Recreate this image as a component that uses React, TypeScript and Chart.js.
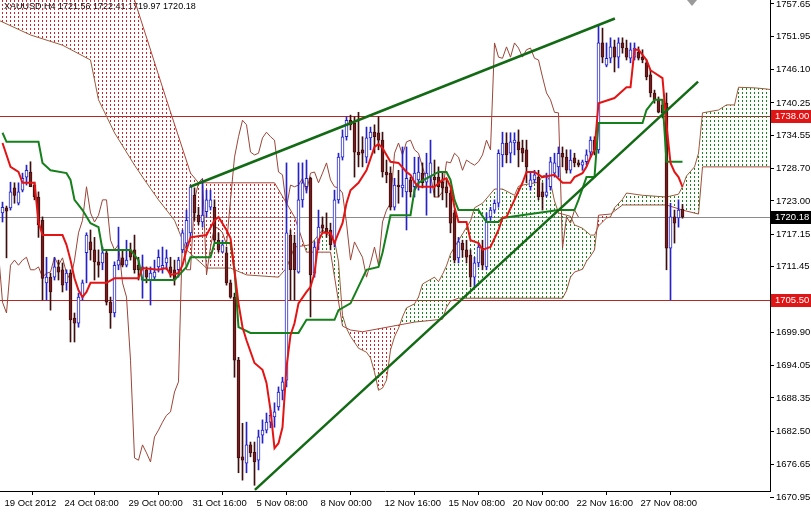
import React, { useEffect, useRef } from 'react';
import { Chart, registerables } from 'chart.js';

Chart.register(...registerables);

// ---------- DATA (XAUUSD, H4) ----------
const opens = [
  1720.9, 1721.8, 1721.8, 1725.3, 1722.6, 1724.9, 1727.2, 1728.1, 1725.8, 1723.7,
  1719.6, 1708.6, 1709.6, 1709.6, 1711.4, 1710.9, 1708.6, 1710.3, 1702.4, 1701.5,
  1706.1, 1713.9, 1715.8, 1714.4, 1712.3, 1712.1, 1713.9, 1705.2, 1703.3, 1711.7,
  1713.0, 1711.7, 1714.4, 1714.4, 1711.7, 1709.1, 1710.9, 1709.1, 1709.6, 1711.4,
  1711.2, 1712.1, 1711.4, 1710.9, 1710.9, 1714.4, 1715.6, 1717.4, 1724.0, 1720.5,
  1719.3, 1721.1, 1721.9, 1721.9, 1716.1, 1714.0, 1713.9, 1708.6, 1706.1, 1695.0,
  1678.0, 1676.9, 1680.1, 1678.8, 1677.4, 1681.8, 1682.7, 1684.1, 1685.0, 1686.8,
  1689.7, 1691.5, 1717.0, 1715.6, 1710.5, 1723.2, 1725.5, 1727.0, 1710.3, 1715.6,
  1718.8, 1718.2, 1717.9, 1715.6, 1723.2, 1730.7, 1734.3, 1737.2, 1736.7, 1731.6,
  1732.0, 1730.7, 1734.1, 1735.1, 1735.0, 1733.7, 1728.1, 1727.9, 1721.9, 1725.8,
  1725.3, 1724.6, 1726.7, 1725.5, 1726.7, 1727.9, 1726.3, 1727.2, 1727.2, 1727.2,
  1726.3, 1725.5, 1724.4, 1720.9, 1713.0, 1715.6, 1714.4, 1713.5, 1709.6, 1712.1,
  1714.7, 1711.4, 1720.2, 1721.4, 1722.6, 1731.1, 1733.2, 1731.4, 1733.2, 1733.4,
  1732.3, 1732.0, 1725.5, 1726.7, 1727.2, 1724.6, 1724.0, 1725.5, 1727.9, 1729.0,
  1731.4, 1730.7, 1728.4, 1730.6, 1729.7, 1729.3, 1729.9, 1731.6, 1733.7, 1732.0,
  1750.8, 1746.9, 1748.1, 1750.1, 1748.3, 1750.8, 1749.9, 1748.1, 1748.3, 1749.2,
  1748.3, 1747.3, 1745.2, 1742.0, 1740.8, 1739.9, 1740.2, 1714.7, 1720.2, 1720.0,
  1721.56,
];
const highs = [
  1722.8, 1722.1, 1726.3, 1726.2, 1726.2, 1727.9, 1729.3, 1729.9, 1726.3, 1724.6,
  1720.2, 1713.1, 1710.3, 1713.1, 1712.6, 1712.1, 1710.9, 1710.9, 1703.3, 1706.8,
  1709.1, 1717.4, 1717.9, 1716.6, 1714.4, 1714.9, 1714.4, 1706.1, 1712.3, 1718.4,
  1714.4, 1716.1, 1715.6, 1717.0, 1713.1, 1713.5, 1711.4, 1711.4, 1712.6, 1714.4,
  1714.9, 1714.4, 1713.1, 1712.6, 1713.1, 1717.9, 1721.4, 1725.8, 1725.3, 1721.9,
  1726.7, 1724.9, 1724.9, 1723.2, 1717.4, 1716.1, 1714.9, 1709.1, 1706.8, 1695.5,
  1683.9, 1684.1, 1680.6, 1680.6, 1682.7, 1684.5, 1685.7, 1686.2, 1687.5, 1690.3,
  1692.0, 1729.7, 1717.9, 1717.0, 1729.7, 1729.7, 1730.2, 1727.2, 1715.8, 1721.4,
  1720.2, 1720.9, 1719.1, 1724.9, 1731.4, 1735.5, 1737.8, 1738.1, 1737.8, 1738.6,
  1734.3, 1736.0, 1736.0, 1736.4, 1737.8, 1735.1, 1730.2, 1729.0, 1727.0, 1728.4,
  1732.5, 1732.5, 1727.2, 1730.7, 1730.7, 1729.7, 1731.4, 1733.7, 1730.2, 1729.0,
  1727.9, 1726.7, 1724.9, 1721.4, 1716.6, 1716.1, 1716.1, 1714.4, 1713.1, 1715.6,
  1716.1, 1720.9, 1721.9, 1723.2, 1732.0, 1735.1, 1735.0, 1735.0, 1735.0, 1735.5,
  1733.7, 1733.7, 1727.9, 1728.4, 1728.4, 1726.2, 1727.9, 1730.7, 1731.4, 1732.5,
  1732.5, 1732.0, 1732.0, 1731.4, 1730.2, 1730.2, 1732.0, 1734.3, 1734.3, 1754.0,
  1753.4, 1750.8, 1751.7, 1751.3, 1751.7, 1751.7, 1751.3, 1750.8, 1750.8, 1750.1,
  1749.6, 1747.8, 1746.0, 1742.5, 1741.3, 1740.8, 1742.0, 1722.6, 1721.4, 1723.2,
  1722.41,
];
const lows = [
  1719.3, 1713.0, 1721.4, 1722.6, 1722.3, 1724.6, 1725.8, 1725.5, 1723.2, 1716.6,
  1705.6, 1705.6, 1703.8, 1709.1, 1709.1, 1707.0, 1707.3, 1698.2, 1698.2, 1700.8,
  1705.6, 1708.6, 1712.6, 1709.1, 1709.6, 1710.9, 1704.7, 1700.6, 1702.6, 1710.9,
  1711.4, 1711.4, 1712.6, 1710.3, 1709.1, 1705.9, 1708.6, 1704.7, 1709.1, 1710.5,
  1710.3, 1710.9, 1709.6, 1708.2, 1709.6, 1713.9, 1714.9, 1716.6, 1719.6, 1718.8,
  1718.4, 1720.2, 1721.4, 1715.8, 1714.0, 1713.9, 1708.2, 1705.9, 1692.0, 1675.2,
  1673.9, 1675.2, 1678.0, 1673.0, 1675.7, 1680.4, 1682.2, 1683.1, 1683.2, 1686.2,
  1688.0, 1690.3, 1705.6, 1705.6, 1710.3, 1721.9, 1724.4, 1702.6, 1709.6, 1714.4,
  1717.4, 1716.6, 1714.4, 1714.9, 1722.6, 1730.2, 1733.7, 1735.5, 1727.2, 1729.0,
  1729.0, 1729.7, 1732.0, 1731.4, 1732.0, 1727.2, 1726.2, 1721.4, 1721.4, 1722.6,
  1723.7, 1717.9, 1723.7, 1723.7, 1724.9, 1725.3, 1720.5, 1724.4, 1723.7, 1723.7,
  1723.2, 1721.9, 1717.4, 1712.1, 1712.1, 1713.1, 1712.1, 1707.9, 1707.9, 1711.4,
  1710.9, 1710.9, 1719.6, 1720.9, 1721.9, 1729.0, 1729.7, 1729.7, 1731.1, 1729.0,
  1729.9, 1726.2, 1724.9, 1726.2, 1723.2, 1721.4, 1723.7, 1724.9, 1727.2, 1727.2,
  1729.0, 1727.9, 1727.9, 1729.0, 1729.0, 1728.4, 1729.3, 1730.7, 1731.1, 1731.4,
  1747.3, 1746.6, 1747.3, 1745.7, 1746.4, 1749.0, 1747.8, 1747.3, 1747.8, 1747.8,
  1747.3, 1744.3, 1741.3, 1740.2, 1738.5, 1737.6, 1710.9, 1705.6, 1715.6, 1718.4,
  1719.97,
];
const closes = [
  1721.9, 1721.2, 1724.6, 1724.0, 1724.6, 1727.0, 1728.4, 1725.5, 1723.7, 1718.8,
  1709.4, 1709.6, 1707.0, 1711.4, 1710.5, 1708.2, 1710.3, 1702.1, 1701.5, 1706.1,
  1708.6, 1717.0, 1714.4, 1712.3, 1711.7, 1713.9, 1705.2, 1703.3, 1711.7, 1712.6,
  1711.7, 1712.6, 1713.1, 1710.9, 1710.9, 1711.4, 1709.6, 1710.3, 1710.5, 1713.1,
  1711.7, 1713.0, 1710.3, 1709.1, 1712.6, 1717.4, 1719.6, 1725.5, 1720.9, 1719.3,
  1720.5, 1723.2, 1723.2, 1716.1, 1714.4, 1715.3, 1708.6, 1706.1, 1695.0, 1677.8,
  1677.4, 1680.1, 1678.7, 1677.1, 1681.5, 1682.7, 1684.1, 1685.3, 1685.9, 1689.4,
  1691.2, 1717.4, 1710.9, 1710.9, 1723.2, 1726.2, 1727.0, 1710.0, 1714.9, 1718.4,
  1718.2, 1717.4, 1715.3, 1723.2, 1730.7, 1734.3, 1737.2, 1736.4, 1731.6, 1731.1,
  1731.4, 1734.1, 1735.1, 1734.3, 1733.7, 1728.1, 1727.6, 1721.9, 1725.8, 1725.5,
  1725.8, 1727.0, 1724.6, 1727.9, 1728.1, 1726.2, 1727.9, 1729.7, 1726.7, 1725.5,
  1725.3, 1724.4, 1719.1, 1712.6, 1715.8, 1714.4, 1713.1, 1709.6, 1712.1, 1714.9,
  1711.7, 1719.3, 1721.4, 1722.6, 1731.4, 1733.2, 1731.1, 1733.4, 1733.7, 1732.0,
  1731.4, 1729.0, 1726.7, 1727.6, 1723.7, 1723.7, 1724.6, 1729.9, 1729.7, 1731.4,
  1730.7, 1728.4, 1730.2, 1729.7, 1729.3, 1729.9, 1731.1, 1733.7, 1732.0, 1750.8,
  1748.3, 1748.1, 1750.1, 1748.3, 1750.8, 1749.9, 1748.3, 1749.6, 1749.9, 1748.1,
  1747.8, 1744.8, 1742.0, 1740.8, 1738.6, 1738.5, 1714.7, 1720.2, 1719.1, 1721.4,
  1720.18,
];

// Ichimoku lines: [bar index, price]
const tenkan: [number, number][] = [
  [0, 1733.2], [2, 1729.0], [4, 1728.1], [5, 1726.2], [8, 1726.2], [9, 1719.3], [10, 1717.0],
  [15, 1717.0], [16, 1715.3], [17, 1712.6], [18, 1709.4], [19, 1707.3], [20, 1706.1], [21, 1707.0],
  [22, 1708.6], [26, 1708.6], [28, 1709.4], [34, 1709.4], [35, 1711.2], [39, 1710.9], [41, 1711.2],
  [42, 1710.0], [44, 1710.3], [45, 1711.7], [46, 1714.4], [47, 1716.6], [51, 1717.0], [53, 1719.6],
  [54, 1720.2], [56, 1717.9], [57, 1716.5], [59, 1705.0], [60, 1700.8], [61, 1698.5], [63, 1694.5],
  [65, 1693.3], [66, 1691.0], [67, 1686.2], [68, 1679.5], [69, 1680.4], [70, 1683.2], [71, 1693.8],
  [72, 1699.4], [73, 1701.5], [74, 1705.0], [76, 1707.0], [77, 1707.9], [78, 1710.3], [79, 1716.1],
  [80, 1717.4], [82, 1717.4], [83, 1715.6], [84, 1717.4], [85, 1719.1], [86, 1722.6], [87, 1724.9],
  [89, 1726.2], [91, 1728.4], [93, 1732.5], [94, 1733.0], [95, 1732.3], [97, 1729.9], [99, 1729.7],
  [101, 1728.1], [102, 1727.6], [103, 1726.3], [104, 1725.5], [108, 1725.5], [110, 1726.7],
  [111, 1727.0], [112, 1725.5], [113, 1721.9], [114, 1719.3], [116, 1719.3], [117, 1716.1],
  [119, 1715.6], [120, 1714.4], [122, 1714.9], [124, 1717.9], [125, 1720.0], [126, 1720.2],
  [128, 1723.2], [130, 1726.2], [131, 1728.1], [133, 1728.1], [135, 1727.2], [138, 1727.6],
  [140, 1726.2], [142, 1726.2], [143, 1727.2], [145, 1727.9], [146, 1729.0], [147, 1730.7],
  [148, 1732.0], [149, 1740.2], [153, 1741.1], [156, 1743.0], [157, 1743.0], [158, 1749.6],
  [159, 1749.6], [161, 1747.8], [162, 1746.0], [165, 1744.6], [166, 1736.4], [167, 1729.7],
  [168, 1728.1], [169, 1727.2], [170, 1725.5],
];
const kijun: [number, number][] = [
  [0, 1735.0], [1, 1733.4], [9, 1733.4], [10, 1729.7], [12, 1728.4], [16, 1727.9], [17, 1726.7],
  [18, 1723.2], [20, 1721.4], [22, 1719.1], [24, 1718.4], [25, 1714.4], [32, 1714.4], [34, 1712.6],
  [35, 1709.1], [43, 1709.1], [46, 1711.4], [47, 1713.1], [52, 1713.1], [53, 1715.6], [57, 1715.6],
  [58, 1710.9], [59, 1700.8], [62, 1699.8], [74, 1699.8], [76, 1702.1], [83, 1702.1], [84, 1703.8],
  [87, 1705.0], [91, 1710.9], [94, 1711.4], [95, 1713.9], [97, 1720.5], [102, 1720.5], [103, 1724.9],
  [104, 1726.2], [109, 1728.1], [111, 1728.1], [112, 1726.7], [113, 1723.2], [114, 1721.4],
  [119, 1721.4], [121, 1719.3], [124, 1719.3], [125, 1720.0], [139, 1721.4], [143, 1721.4],
  [144, 1723.2], [146, 1727.2], [148, 1727.2], [149, 1736.7], [160, 1736.7], [161, 1739.0],
  [163, 1740.8], [165, 1740.8], [166, 1729.9], [170, 1729.9],
];
const spanA: [number, number][] = [
  [-1, 1754.8], [7, 1752.2], [15, 1750.4], [22, 1747.8], [24, 1740.8], [28, 1735.0], [33, 1729.3],
  [36, 1726.2], [39, 1723.2], [43, 1719.6], [46, 1714.4], [51, 1711.2], [57, 1711.2], [61, 1710.0],
  [69, 1709.6], [71, 1711.2], [73, 1714.9], [77, 1715.3], [80, 1717.9], [83, 1716.1], [84, 1712.3],
  [85, 1702.9], [86, 1700.6], [87, 1699.2], [89, 1697.1], [91, 1696.4], [92, 1695.4], [93, 1692.9],
  [94, 1689.7], [95, 1690.1], [96, 1691.5], [97, 1696.8], [98, 1699.1], [99, 1700.6], [100, 1702.6],
  [101, 1704.2], [103, 1704.9], [104, 1706.1], [105, 1708.4], [108, 1709.6], [109, 1708.8],
  [110, 1710.1], [111, 1711.6], [112, 1713.7], [113, 1714.9], [115, 1717.2], [117, 1719.5],
  [118, 1721.8], [120, 1722.6], [123, 1725.1], [125, 1725.1], [128, 1724.0], [129, 1725.6],
  [130, 1725.8], [134, 1726.3], [135, 1727.4], [136, 1727.6], [137, 1726.3], [138, 1723.0],
  [139, 1720.9], [142, 1720.3], [143, 1718.8], [145, 1718.2], [147, 1717.0], [148, 1717.0],
  [149, 1718.6], [151, 1720.0], [152, 1720.2], [153, 1721.8], [155, 1723.3], [156, 1724.4],
  [160, 1724.0], [166, 1723.7], [169, 1724.2], [170, 1725.5], [171, 1727.4], [173, 1729.0],
  [174, 1731.4], [175, 1738.5], [179, 1739.0], [181, 1739.9], [183, 1739.9], [184, 1743.0],
  [188, 1742.9], [191, 1742.7], [193, 1742.5],
];
const spanB: [number, number][] = [
  [-1, 1765.4], [24, 1761.9], [33, 1758.35], [41, 1740.8], [47, 1727.9], [49, 1726.2], [68, 1726.2],
  [73, 1720.2], [76, 1714.0], [82, 1714.0], [85, 1701.0], [87, 1700.3], [90, 1700.0], [100, 1701.3],
  [103, 1701.7], [110, 1702.2], [111, 1704.3], [112, 1705.4], [114, 1705.9], [140, 1705.9],
  [141, 1707.2], [142, 1709.6], [143, 1710.5], [145, 1711.0], [146, 1712.4], [147, 1713.3],
  [148, 1714.4], [149, 1720.5], [152, 1720.7], [155, 1722.3], [166, 1722.3], [170, 1721.4],
  [174, 1720.7], [175, 1729.0], [193, 1729.0],
];
const chikouShift = 26;

// Hand-drawn trend lines: [bar index, price]
const trendUpper: [number, number][] = [[46.9, 1725.5], [153.1, 1755.1]];
const trendLower: [number, number][] = [[63.1, 1672.2], [173.9, 1744.0]];

// Axis / labels
const xTickIdx = [0, 15, 31, 47, 63, 79, 95, 111, 127, 143, 159];
const xTickLabels = [
  '19 Oct 2012', '24 Oct 08:00', '29 Oct 00:00', '31 Oct 16:00', '5 Nov 08:00', '8 Nov 00:00',
  '12 Nov 16:00', '15 Nov 08:00', '20 Nov 00:00', '22 Nov 16:00', '27 Nov 08:00',
];
const yTicks = [
  1757.65, 1751.95, 1746.10, 1740.25, 1734.55, 1728.70, 1723.00, 1717.15, 1711.45,
  1699.90, 1694.05, 1688.35, 1682.50, 1676.65,
];
const yBottomTick = 1670.95;
const levelLines = [1738.00, 1705.50];
const lastPrice = 1720.18;
const titleText = 'XAUUSD,H4 1721.56 1722.41 1719.97 1720.18';
const shiftMarkerIdx = 172.3;

// ---------- STYLE ----------
const FONT = '"Liberation Sans", Arial, sans-serif';
const BULL = '#2323C8';
const BEAR_FILL = '#7A1C1C';
const BEAR_LINE = '#3E0E0E';

function dotPattern(color: string): CanvasPattern | string {
  const c = document.createElement('canvas');
  c.width = 4;
  c.height = 4;
  const g = c.getContext('2d');
  if (!g) return color;
  g.fillStyle = color;
  g.fillRect(2, 0, 1, 2);
  return g.createPattern(c, 'repeat') || color;
}

const toXY = (pts: [number, number][]) => pts.map(([x, y]) => ({ x, y }));

export default function App() {
  const ref = useRef<HTMLCanvasElement | null>(null);

  useEffect(() => {
    document.body.style.margin = '0';
    const canvas = ref.current;
    if (!canvas) return;

    const xMin = -0.625;
    const xMax = 191.875;
    const yMin = 1671.99;
    const yMax = 1758.35;

    const isBull = (i: number) => closes[i] >= opens[i];

    const overlay = {
      id: 'mt4overlay',
      beforeDatasetsDraw(chart: any) {
        const { ctx, chartArea: a, scales } = chart;
        const y = scales.y;
        ctx.save();
        ctx.font = '9px ' + FONT;
        ctx.fillStyle = '#000';
        ctx.textAlign = 'left';
        ctx.textBaseline = 'middle';
        ctx.fillText(titleText, 4, 7);
        ctx.lineWidth = 1;
        ctx.strokeStyle = '#B42828';
        for (const v of levelLines) {
          const py = Math.round(y.getPixelForValue(v)) + 0.5;
          ctx.beginPath();
          ctx.moveTo(a.left, py);
          ctx.lineTo(a.right, py);
          ctx.stroke();
        }
        ctx.strokeStyle = '#8C8C8C';
        const pl = Math.round(y.getPixelForValue(lastPrice)) + 0.5;
        ctx.beginPath();
        ctx.moveTo(a.left, pl);
        ctx.lineTo(a.right, pl);
        ctx.stroke();
        ctx.restore();
      },
      afterDraw(chart: any) {
        const { ctx, chartArea: a, scales } = chart;
        const y = scales.y;
        const x = scales.x;
        ctx.save();
        ctx.font = '9.5px ' + FONT;
        ctx.textAlign = 'left';
        ctx.textBaseline = 'middle';
        // bottom tick label
        const pb = Math.round(y.getPixelForValue(yBottomTick)) + 0.5;
        ctx.strokeStyle = '#000';
        ctx.lineWidth = 1;
        ctx.beginPath();
        ctx.moveTo(a.right, pb);
        ctx.lineTo(a.right + 4, pb);
        ctx.stroke();
        ctx.fillStyle = '#000';
        ctx.fillText(yBottomTick.toFixed(2), a.right + 6, pb);
        // price tags
        const tags = [
          { v: levelLines[0], bg: '#E01515' },
          { v: levelLines[1], bg: '#E01515' },
          { v: lastPrice, bg: '#000000' },
        ];
        for (const t of tags) {
          const py = Math.round(y.getPixelForValue(t.v));
          ctx.fillStyle = t.bg;
          ctx.fillRect(a.right + 1, py - 6, chart.width - a.right - 1, 13);
          ctx.fillStyle = '#FFFFFF';
          ctx.fillText(t.v.toFixed(2), a.right + 5, py + 0.5);
        }
        // chart shift marker
        const mx = Math.round(x.getPixelForValue(shiftMarkerIdx));
        ctx.fillStyle = '#9A9A9A';
        ctx.beginPath();
        ctx.moveTo(mx - 5, 0);
        ctx.lineTo(mx + 5, 0);
        ctx.lineTo(mx, 6);
        ctx.closePath();
        ctx.fill();
        ctx.restore();
      },
    };

    const greenDots = dotPattern('#128A12');
    const redDots = dotPattern('#D02222');

    const datasets: any[] = [
      {
        type: 'line',
        label: 'Senkou B',
        data: toXY(spanB),
        borderColor: '#A8483C',
        borderWidth: 1,
        pointRadius: 0,
        fill: false,
        order: 12,
      },
      {
        type: 'line',
        label: 'Senkou A',
        data: toXY(spanA),
        borderColor: '#9C5A3C',
        borderWidth: 1,
        pointRadius: 0,
        fill: { target: 0, above: greenDots, below: redDots },
        order: 11,
      },
      {
        type: 'line',
        label: 'Chikou',
        data: closes.map((c, i) => ({ x: i - chikouShift, y: c })),
        borderColor: '#9A4638',
        borderWidth: 1,
        pointRadius: 0,
        fill: false,
        order: 10,
      },
      {
        type: 'bar',
        label: 'wick',
        data: highs.map((h, i) => ({ x: i, y: [lows[i], h] })),
        backgroundColor: (c: any) => (c.dataIndex != null && isBull(c.dataIndex) ? BULL : BEAR_LINE),
        borderWidth: 0,
        barThickness: 1,
        grouped: false,
        order: 8,
      },
      {
        type: 'bar',
        label: 'body',
        data: opens.map((o, i) => ({ x: i, y: [o, closes[i]] })),
        backgroundColor: (c: any) => (c.dataIndex != null && isBull(c.dataIndex) ? '#FFFFFF' : BEAR_FILL),
        borderColor: (c: any) => (c.dataIndex != null && isBull(c.dataIndex) ? BULL : BEAR_LINE),
        borderWidth: 1,
        borderSkipped: false,
        barThickness: 3,
        minBarLength: 1,
        grouped: false,
        order: 7,
      },
      {
        type: 'line',
        label: 'Kijun',
        data: toXY(kijun),
        borderColor: '#15801C',
        borderWidth: 2,
        pointRadius: 0,
        fill: false,
        order: 5,
      },
      {
        type: 'line',
        label: 'Tenkan',
        data: toXY(tenkan),
        borderColor: '#E41414',
        borderWidth: 2,
        pointRadius: 0,
        fill: false,
        order: 4,
      },
      {
        type: 'line',
        label: 'trend upper',
        data: toXY(trendUpper),
        borderColor: '#126A14',
        borderWidth: 2.5,
        pointRadius: 0,
        fill: false,
        order: 2,
      },
      {
        type: 'line',
        label: 'trend lower',
        data: toXY(trendLower),
        borderColor: '#126A14',
        borderWidth: 2.5,
        pointRadius: 0,
        fill: false,
        order: 1,
      },
    ];

    const tickFont = { family: FONT, size: 9.5 };

    const chart = new Chart(canvas, {
      type: 'bar',
      data: { datasets },
      options: {
        responsive: false,
        animation: false,
        devicePixelRatio: 1,
        events: [],
        layout: { padding: 0 },
        plugins: {
          legend: { display: false },
          tooltip: { enabled: false },
          title: { display: false },
        },
        scales: {
          x: {
            type: 'linear',
            position: 'bottom',
            min: xMin,
            max: xMax,
            offset: false,
            afterBuildTicks: (s: any) => {
              s.ticks = xTickIdx.map((v) => ({ value: v }));
            },
            afterFit: (s: any) => {
              s.height = 28;
              s.paddingLeft = 0;
              s.paddingRight = 0;
            },
            ticks: {
              align: 'start',
              labelOffset: 2,
              maxRotation: 0,
              minRotation: 0,
              autoSkip: false,
              padding: 3,
              color: '#000',
              font: tickFont,
              callback: (_v: any, i: number) => xTickLabels[i] ?? '',
            },
            grid: { drawOnChartArea: false, drawTicks: true, tickLength: 4, color: '#000' },
            border: { display: true, color: '#000', width: 1 },
          },
          y: {
            type: 'linear',
            position: 'right',
            min: yMin,
            max: yMax,
            afterBuildTicks: (s: any) => {
              s.ticks = yTicks.map((v) => ({ value: v }));
            },
            afterFit: (s: any) => {
              s.width = 41;
              s.paddingTop = 0;
              s.paddingBottom = 0;
            },
            ticks: {
              autoSkip: false,
              padding: 2,
              color: '#000',
              font: tickFont,
              callback: (v: any) => Number(v).toFixed(2),
            },
            grid: { drawOnChartArea: false, drawTicks: true, tickLength: 4, color: '#000' },
            border: { display: true, color: '#000', width: 1 },
          },
        },
      } as any,
      plugins: [overlay],
    } as any);

    return () => chart.destroy();
  }, []);

  return (
    <canvas
      ref={ref}
      width={811}
      height={519}
      style={{ display: 'block', position: 'absolute', left: 0, top: 0, width: 811, height: 519 }}
    />
  );
}
